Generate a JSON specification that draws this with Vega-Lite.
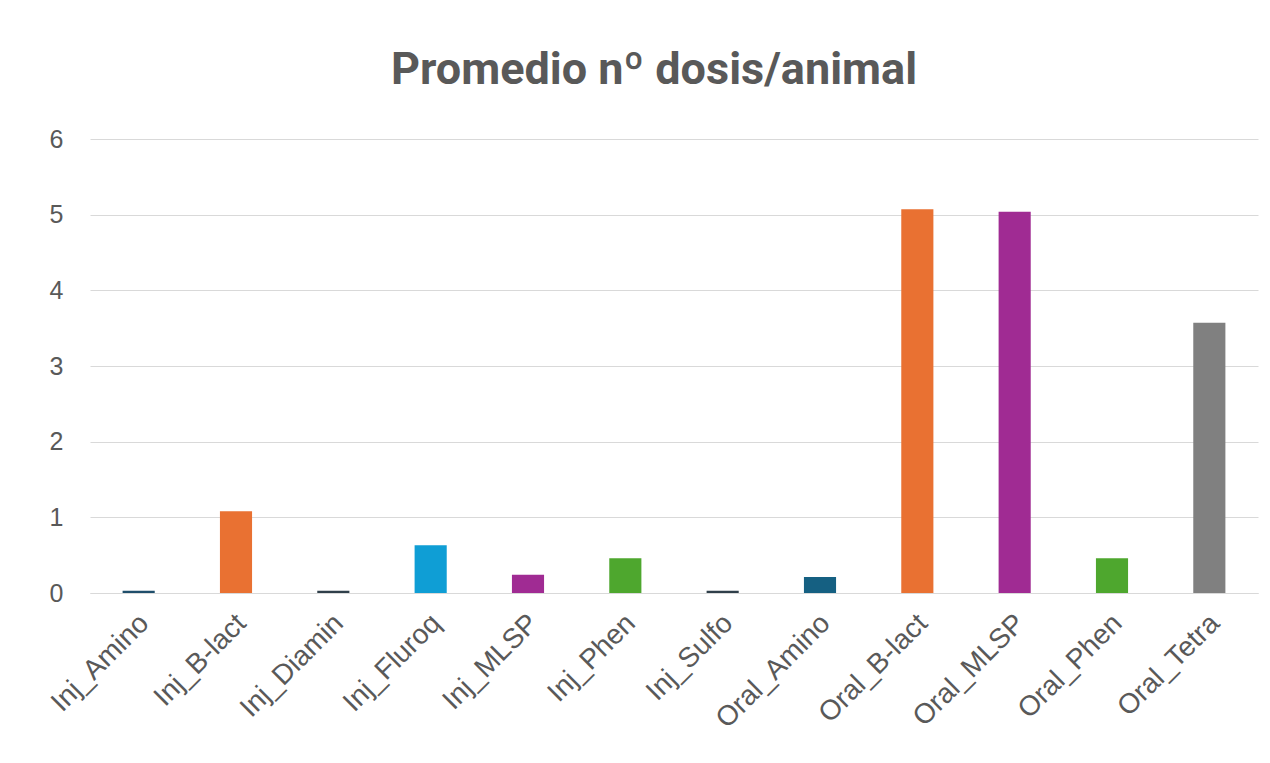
{
  "$schema": "https://vega.github.io/schema/vega-lite/v6.json",
  "autosize": "none",
  "width": 1168,
  "height": 454,
  "padding": {"left": 90, "top": 139, "right": 12, "bottom": 170},
  "background": "white",
  "title": {
    "text": "Promedio nº dosis/animal",
    "anchor": "middle",
    "font": "Roboto",
    "fontSize": 45,
    "fontWeight": "bold",
    "color": "#595959",
    "offset": 34,
    "dx": -20
  },
  "data": {
    "values": [
      {"grupo": "Inj_Amino", "valor": 0.03},
      {"grupo": "Inj_B-lact", "valor": 1.08},
      {"grupo": "Inj_Diamin", "valor": 0.03},
      {"grupo": "Inj_Fluroq", "valor": 0.63},
      {"grupo": "Inj_MLSP", "valor": 0.24},
      {"grupo": "Inj_Phen", "valor": 0.46},
      {"grupo": "Inj_Sulfo", "valor": 0.03},
      {"grupo": "Oral_Amino", "valor": 0.21},
      {"grupo": "Oral_B-lact", "valor": 5.07},
      {"grupo": "Oral_MLSP", "valor": 5.04},
      {"grupo": "Oral_Phen", "valor": 0.46},
      {"grupo": "Oral_Tetra", "valor": 3.57}
    ]
  },
  "mark": {"type": "bar"},
  "encoding": {
    "x": {
      "field": "grupo",
      "type": "nominal",
      "sort": null,
      "scale": {"paddingInner": 0.67, "paddingOuter": 0.335},
      "axis": {
        "title": null,
        "labelAngle": -45,
        "labelFont": "Liberation Sans",
        "labelFontSize": 28,
        "labelColor": "#595959",
        "labelPadding": 16,
        "labelOffset": -4,
        "ticks": false,
        "domainColor": "#D9D9D9",
        "domainWidth": 1
      }
    },
    "y": {
      "field": "valor",
      "type": "quantitative",
      "scale": {"domain": [0, 6]},
      "axis": {
        "title": null,
        "values": [0, 1, 2, 3, 4, 5, 6],
        "labelFont": "Liberation Sans",
        "labelFontSize": 25,
        "labelColor": "#595959",
        "labelPadding": 27,
        "ticks": false,
        "domain": false,
        "gridColor": "#D9D9D9",
        "gridWidth": 1
      }
    },
    "color": {
      "field": "grupo",
      "type": "nominal",
      "legend": null,
      "scale": {
        "domain": ["Inj_Amino", "Inj_B-lact", "Inj_Diamin", "Inj_Fluroq", "Inj_MLSP", "Inj_Phen", "Inj_Sulfo", "Oral_Amino", "Oral_B-lact", "Oral_MLSP", "Oral_Phen", "Oral_Tetra"],
        "range": ["#1F4E6B", "#E97132", "#2F3F4A", "#0F9ED5", "#A02B93", "#4EA72E", "#2F3F4A", "#156082", "#E97132", "#A02B93", "#4EA72E", "#808080"]
      }
    }
  },
  "config": {"view": {"stroke": null}}
}
